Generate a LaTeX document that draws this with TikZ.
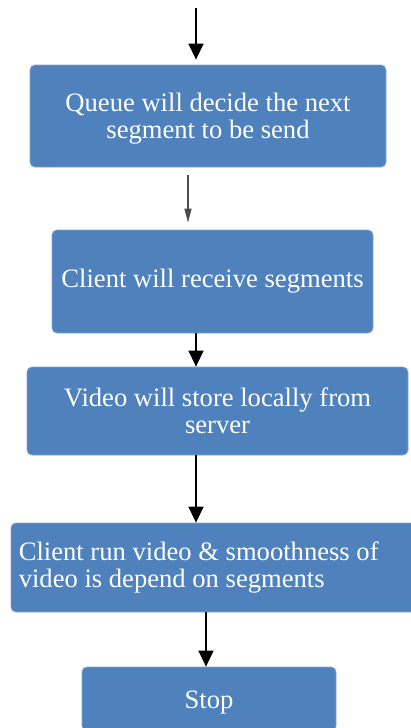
\documentclass[tikz,border=0pt]{standalone}
\usepackage{fontspec}
\setmainfont{Liberation Serif}
\usetikzlibrary{arrows.meta}
\definecolor{boxblue}{HTML}{4F81BD}
\definecolor{boxedge}{HTML}{7EA3D0}
\begin{document}
\begin{tikzpicture}[x=1pt,y=-1pt,
  stepbox/.style={rectangle, rounded corners=5pt, fill=boxblue, draw=boxedge,
    line width=0.8pt},
  steptext/.style={text=white, align=center, inner sep=0pt,
    font=\fontsize{26.6}{27}\selectfont},
  arr/.style={line width=1.5pt, -{Triangle[length=16pt,width=15pt]}},
  thinarr/.style={line width=1.2pt, draw=black!70, -{Triangle[length=14pt,width=7pt]}}]
  \useasboundingbox (0,0) rectangle (410,728);

  % process boxes
  \node[stepbox, minimum width=356pt, minimum height=102pt] (b1) at (208,116) {};
  \node[stepbox, minimum width=321pt, minimum height=103pt] (b2) at (212.5,281.5) {};
  \node[stepbox, minimum width=381pt, minimum height=88pt] (b3) at (217.5,411) {};
  \node[stepbox, minimum width=409pt, minimum height=89pt] (b4) at (215.5,567.5) {};
  \node[stepbox, minimum width=254pt, minimum height=64pt] (b5) at (209,699) {};

  % box texts
  \node[steptext] (t1) at ([yshift=-3pt]b1.center) {Queue will decide the next\\segment to be send};
  \node[steptext] (t2) at (b2.center) {Client will receive segments};
  \node[steptext] (t3) at (b3.center) {Video will store locally from\\server};
  \node[steptext, align=left, anchor=west] (t4) at ([xshift=8pt]b4.west)
    {Client run video \& smoothness of\\video is depend on segments};
  \node[steptext] (t5) at ([yshift=-4pt]b5.center) {Stop};

  % connector columns
  \coordinate (top) at (196,8);
  \coordinate (c188) at (188,0);
  \coordinate (c196) at (196,0);
  \coordinate (c206) at (206,0);

  % connectors
  \draw[arr, shorten >=5pt] (top) -- (top |- b1.north);
  \draw[thinarr, shorten <=8pt, shorten >=7pt] (b1.south -| c188) -- (b2.north -| c188);
  \draw[arr] (b2.south -| c196) -- (b3.north -| c196);
  \draw[arr] (b3.south -| c196) -- (b4.north -| c196);
  \draw[arr] (b4.south -| c206) -- (b5.north -| c206);
\end{tikzpicture}
\end{document}
